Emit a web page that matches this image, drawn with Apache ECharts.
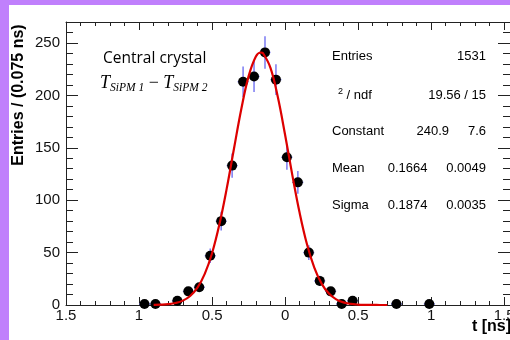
<!DOCTYPE html>
<html><head><meta charset="utf-8">
<script src="https://cdn.jsdelivr.net/npm/echarts@6/dist/echarts.min.js"></script>
<style>
html,body{margin:0;padding:0;background:#c080fc;width:510px;height:340px;overflow:hidden}
#c{position:absolute;left:9px;top:5px;width:501px;height:335px;background:#fff}
</style></head><body><div id="c"></div>
<script>
// Histogram bin centres (ns), counts and error bars
const binCenters = [-0.9625,-0.8875,-0.7375,-0.6625,-0.5875,-0.5125,-0.4375,-0.3625,-0.2875,-0.2125,-0.1375,-0.0625,0.0125,0.0875,0.1625,0.2375,0.3125,0.3875,0.4625,0.7625,0.9875];
const counts     = [1,1,4,13,17,47,80,133,213,218,241,215,141,117,50,23,13,1,4,1,1];
const errors     = [1,1,2,3.6,4.1,6.9,8.9,11.5,14.6,14.8,15.5,14.7,11.9,10.8,7.1,4.8,3.6,1,2,1,1];
const binHalfWidth = 0.0375;
// Fitted gaussian curve
const fitX = [-0.90,-0.85,-0.80,-0.75,-0.70,-0.65,-0.60,-0.55,-0.50,-0.45,-0.40,-0.35,-0.30,-0.25,-0.20,-0.1664,-0.15,-0.10,-0.05,0.00,0.05,0.10,0.15,0.20,0.25,0.30,0.35,0.40,0.45,0.50,0.55,0.60,0.65,0.70];
const fitY = [0.11,0.31,0.79,1.89,4.18,8.63,16.6,29.7,49.4,76.7,110.8,149.1,186.8,218.1,237.1,240.9,240.0,226.3,198.6,162.4,123.7,87.7,57.9,35.6,20.4,10.9,5.41,2.50,1.08,0.43,0.16,0.06,0.02,0.01];
// Stats box
const statNames  = ['Entries','2 / ndf','Constant','Mean','Sigma'];
const statValues = ['1531','19.56 / 15','240.9','0.1664','0.1874'];
const statErrors = ['','','7.6','0.0049','0.0035'];

const chart = echarts.init(document.getElementById('c'), null, {renderer:'canvas'});
const AX = '#222';
const FONT = 'Liberation Sans, Arial, sans-serif';
const XMIN = -1.5, XMAX = 1.54, YMIN = 0, YMAX = 270;

function xAx(pos, interval, len, labels, line){
  return {type:'value', min:XMIN, max:XMAX, interval:interval, position:pos,
    axisLine:{show:line, onZero:false, lineStyle:{color:AX,width:1}},
    axisTick:{show:true, inside:true, length:len, lineStyle:{color:AX,width:1}},
    axisLabel:{show:labels, margin:3, fontSize:15, color:'#111', fontFamily:FONT,
      showMaxLabel:false, formatter:v=>String(Math.abs(v))},
    splitLine:{show:false}};
}
function yAx(pos, interval, len, labels, line){
  return {type:'value', min:YMIN, max:YMAX, interval:interval, position:pos,
    axisLine:{show:line, onZero:false, lineStyle:{color:AX,width:1}},
    axisTick:{show:true, inside:true, length:len, lineStyle:{color:AX,width:1}},
    axisLabel:{show:labels, margin:6, fontSize:15, color:'#111', fontFamily:FONT,
      showMaxLabel:false},
    splitLine:{show:false}};
}

const statRows = [51, 90, 126, 163, 200.7];
const graphics = [
  {type:'text', x:10, y:90, rotation:Math.PI/2,
   style:{text:'Entries / (0.075 ns)', font:'bold 16px '+FONT, fill:'#000', align:'center', verticalAlign:'middle'}},
  {type:'text', x:502, y:322,
   style:{text:'t [ns]', font:'bold 16px '+FONT, fill:'#000', align:'right', verticalAlign:'middle'}},
  {type:'text', x:94, y:54,
   style:{text:'Central crystal', font:'15.5px "Open Sans", sans-serif', fill:'#000', align:'left', verticalAlign:'middle'}},
  {type:'text', x:91, y:78,
   style:{text:'{T|T}{s|SiPM 1}{m| − }{T|T}{s|SiPM 2}', align:'left', verticalAlign:'middle',
     rich:{
       T:{fontSize:18, fontStyle:'italic', fontFamily:'Liberation Serif, serif', lineHeight:22, verticalAlign:'middle', fill:'#000'},
       s:{fontSize:11.5, fontStyle:'italic', fontFamily:'Liberation Serif, serif', lineHeight:12, verticalAlign:'bottom', fill:'#000'},
       m:{fontSize:18, fontFamily:'Liberation Serif, serif', lineHeight:22, verticalAlign:'middle', fill:'#000'}
     }}}
];
statNames.forEach((n,i)=>{
  if (i===1) {
    graphics.push({type:'text', x:329, y:statRows[i],
      style:{text:'{sup|2}{n| / ndf}', align:'left', verticalAlign:'middle',
        rich:{sup:{fontSize:9, fontFamily:FONT, verticalAlign:'top', lineHeight:16, fill:'#000'},
              n:{fontSize:13, fontFamily:FONT, lineHeight:16, verticalAlign:'middle', fill:'#000'}}}});
  } else {
    graphics.push({type:'text', x:323, y:statRows[i],
      style:{text:n, font:'13px '+FONT, fill:'#000', align:'left', verticalAlign:'middle'}});
  }
  if (statErrors[i]) {
    graphics.push({type:'text', x: i===2 ? 440 : 418.5, y:statRows[i],
      style:{text:statValues[i], font:'13px '+FONT, fill:'#000', align:'right', verticalAlign:'middle'}});
    graphics.push({type:'text', x:477, y:statRows[i],
      style:{text:statErrors[i], font:'13px '+FONT, fill:'#000', align:'right', verticalAlign:'middle'}});
  } else {
    graphics.push({type:'text', x:477, y:statRows[i],
      style:{text:statValues[i], font:'13px '+FONT, fill:'#000', align:'right', verticalAlign:'middle'}});
  }
});

const pts = binCenters.map((x,i)=>[x, counts[i], errors[i]]);
const fit = fitX.map((x,i)=>[x, fitY[i]]);

chart.setOption({
  animation:false,
  backgroundColor:'#fff',
  grid:{left:57, right:0, top:17, bottom:35, containLabel:false, outerBoundsMode:'none'},
  xAxis:[xAx('bottom',0.5,8,true,true), xAx('bottom',0.1,4,false,false),
         xAx('top',0.5,8,false,true), xAx('top',0.1,4,false,false)],
  yAxis:[yAx('left',50,12,true,true), yAx('left',10,7,false,false),
         yAx('right',50,12,false,true), yAx('right',10,7,false,false)],
  graphic:graphics,
  series:[
    {type:'custom', xAxisIndex:0, yAxisIndex:0, data:pts, z:2,
     renderItem:function(params, api){
       const x=api.value(0), y=api.value(1), e=api.value(2);
       const t=api.coord([x,y+e]), b=api.coord([x,Math.max(0,y-e)]);
       const l=api.coord([x-binHalfWidth,y]), r=api.coord([x+binHalfWidth,y]);
       const st={stroke:'#7a7af2', lineWidth:1.5};
       return {type:'group', children:[
         {type:'line', shape:{x1:t[0],y1:t[1],x2:b[0],y2:b[1]}, style:st},
         {type:'line', shape:{x1:l[0],y1:l[1],x2:r[0],y2:r[1]}, style:st}]};
     }},
    {type:'scatter', xAxisIndex:0, yAxisIndex:0, data:pts, symbol:'circle', symbolSize:10,
     itemStyle:{color:'#000', opacity:1}, z:3},
    {type:'line', xAxisIndex:0, yAxisIndex:0, data:fit, smooth:0.4, showSymbol:false,
     lineStyle:{color:'#dd0000', width:2.2}, z:4}
  ]
});
</script></body></html>
